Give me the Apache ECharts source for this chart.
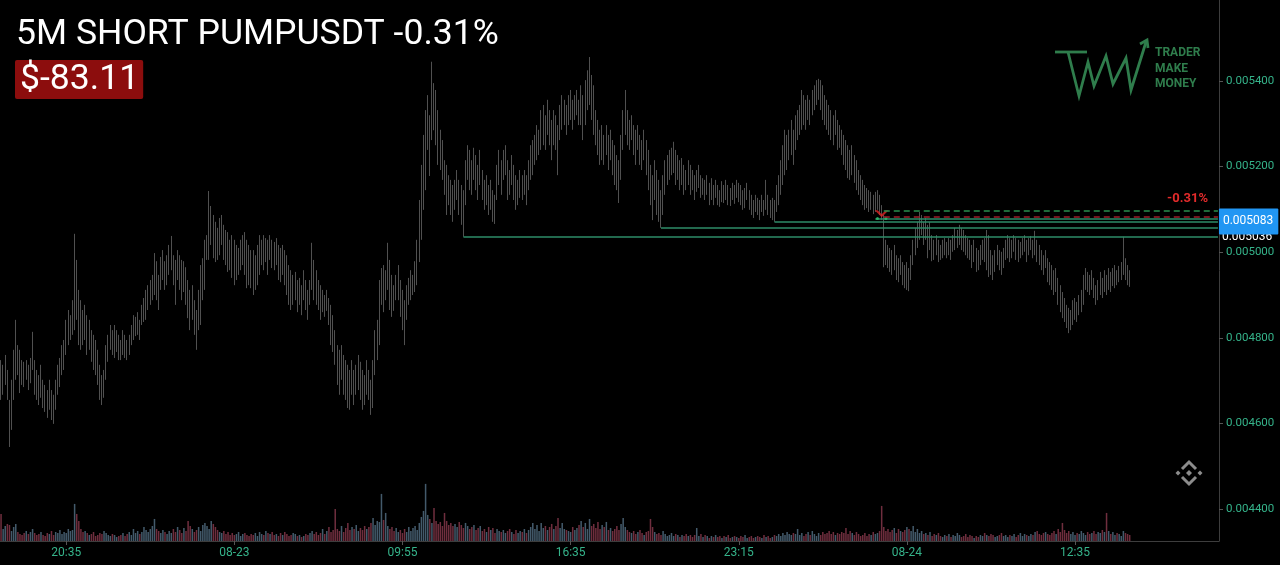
<!DOCTYPE html>
<html><head><meta charset="utf-8">
<script src="https://cdn.jsdelivr.net/npm/echarts@6/dist/echarts.min.js"></script>
<style>html,body{margin:0;padding:0;background:#000;}#c{width:1280px;height:565px;}</style>
</head><body><div id="c"></div>
<script>
// Prices are stored as price x 1e6 (e.g. 5083 = 0.005083)
const highsE6 = [
4748,4737,4760,4725,4655,4702,4772,4842,4783,4772,
4748,4744,4748,4737,4753,4814,4748,4725,4713,4737,
4702,4690,4678,4702,4678,4667,4702,4737,4753,4783,
4795,4842,4865,4853,4888,5043,4982,4912,4888,4865,
4877,4853,4842,4818,4807,4795,4772,4737,4713,4725,
4783,4807,4830,4818,4830,4818,4807,4795,4818,4807,
4795,4807,4830,4853,4849,4860,4842,4877,4893,4912,
4923,4935,4947,4998,4979,4947,4989,5005,4979,4993,
5017,5038,4993,4982,5005,4993,4982,4979,4965,4935,
4912,4923,4888,4865,4912,4970,4986,5029,5040,5143,
5108,5087,5071,5057,5080,5087,5064,5052,5047,5029,
5040,5029,5017,5010,5029,5040,5047,5029,5017,5005,
5005,4993,5017,5040,5029,5040,5033,5029,5040,5029,
5024,5033,5017,5010,5017,5005,4993,4970,4958,4947,
4954,4935,4940,4923,4958,4935,4912,4935,5022,4982,
4958,4935,4923,4912,4900,4912,4893,4877,4853,4818,
4783,4772,4783,4760,4748,4737,4725,4748,4725,4737,
4760,4744,4725,4713,4748,4725,4702,4748,4818,4842,
4935,4963,4970,4958,5022,4982,4947,4923,4947,4970,
4935,4912,4888,4923,4940,4958,4947,4979,5029,5122,
5204,5274,5332,5367,5320,5445,5395,5379,5332,5286,
5262,5215,5204,5180,5169,5157,5169,5192,5169,5157,
5145,5215,5250,5239,5215,5244,5227,5204,5239,5192,
5169,5180,5157,5169,5145,5134,5204,5239,5215,5239,
5250,5215,5192,5227,5204,5180,5169,5192,5180,5192,
5180,5215,5250,5262,5274,5297,5286,5332,5344,5320,
5356,5332,5309,5332,5320,5297,5344,5367,5356,5344,
5367,5379,5356,5367,5379,5356,5390,5367,5402,5425,
5456,5414,5390,5332,5309,5286,5297,5274,5297,5274,
5286,5262,5250,5227,5215,5274,5332,5379,5332,5309,
5320,5297,5286,5297,5274,5262,5286,5262,5239,5204,
5180,5215,5192,5169,5145,5180,5215,5227,5239,5244,
5258,5239,5227,5215,5220,5204,5192,5215,5204,5192,
5180,5192,5204,5180,5173,5169,5180,5162,5173,5157,
5169,5157,5145,5166,5157,5169,5157,5150,5162,5157,
5169,5162,5157,5145,5150,5162,5145,5134,5122,5134,
5127,5122,5134,5122,5169,5134,5122,5127,5122,5157,
5180,5215,5250,5286,5274,5286,5309,5286,5320,5332,
5344,5379,5367,5356,5367,5356,5379,5390,5402,5405,
5402,5390,5367,5356,5344,5332,5320,5332,5309,5297,
5286,5274,5262,5250,5239,5250,5227,5215,5192,5180,
5169,5157,5150,5145,5141,5134,5141,5145,5134,5110,
5087,5029,5017,5010,5005,5017,4993,4986,4993,4977,
4970,4977,4963,4993,5029,5057,5071,5094,5087,5071,
5080,5064,5071,5040,5029,5040,5029,5017,5029,5033,
5024,5033,5029,5040,5057,5052,5064,5057,5052,5040,
5033,5029,5017,5029,5010,5005,5017,5029,5033,5052,
5040,5005,4993,5005,5017,5005,5001,5010,5029,5040,
5033,5029,5040,5033,5029,5024,5033,5040,5029,5033,
5038,5029,5050,5029,5017,5005,4993,5005,4986,4977,
4970,4958,4963,4940,4923,4907,4893,4877,4870,4865,
4888,4893,4884,4900,4912,4947,4963,4954,4947,4958,
4940,4923,4935,4954,4940,4958,4947,4963,4954,4963,
4970,4958,4968,4977,5036,4986,4970,4958
];
const lowsE6 = [
4655,4667,4690,4655,4545,4585,4655,4702,4713,4671,
4690,4685,4702,4678,4694,4725,4667,4655,4643,4660,
4636,4627,4613,4632,4608,4599,4632,4667,4685,4713,
4725,4760,4783,4795,4807,4818,4842,4783,4772,4783,
4795,4760,4772,4744,4725,4713,4690,4655,4643,4660,
4702,4744,4772,4760,4753,4767,4748,4748,4760,4753,
4748,4760,4783,4795,4804,4807,4795,4830,4837,4842,
4865,4877,4888,4900,4888,4865,4912,4935,4912,4923,
4947,4958,4923,4877,4935,4912,4888,4907,4877,4846,
4818,4842,4807,4772,4818,4830,4888,4912,4982,4982,
5017,4986,4977,4982,4993,5017,4982,4970,4954,4958,
4940,4923,4935,4947,4958,4970,4947,4916,4923,4916,
4900,4912,4923,4947,4970,4958,4977,4947,4982,4963,
4958,4970,4935,4930,4947,4923,4900,4877,4865,4877,
4888,4860,4877,4853,4888,4865,4842,4877,4912,4888,
4877,4865,4842,4860,4849,4863,4830,4783,4767,4737,
4690,4667,4702,4667,4655,4636,4632,4667,4643,4667,
4678,4655,4632,4643,4667,4655,4620,4636,4713,4748,
4783,4877,4860,4888,4912,4865,4849,4863,4888,4888,
4849,4818,4783,4842,4877,4888,4900,4907,4923,4977,
5029,5099,5145,5239,5178,5262,5285,5250,5204,5192,
5169,5134,5087,5110,5087,5071,5099,5122,5087,5064,
5036,5110,5169,5145,5134,5169,5145,5122,5157,5122,
5099,5110,5087,5099,5071,5066,5122,5157,5134,5169,
5180,5122,5134,5157,5122,5099,5110,5127,5122,5134,
5110,5145,5169,5180,5204,5215,5227,5239,5250,5239,
5274,5250,5215,5250,5239,5180,5262,5286,5297,5274,
5297,5309,5286,5309,5320,5297,5297,5262,5297,5332,
5344,5309,5274,5250,5227,5204,5215,5204,5227,5192,
5215,5180,5157,5145,5115,5169,5239,5274,5250,5239,
5262,5227,5204,5239,5204,5192,5215,5180,5145,5110,
5075,5122,5087,5071,5057,5087,5134,5157,5169,5180,
5185,5157,5169,5145,5157,5134,5145,5157,5134,5145,
5122,5141,5150,5127,5134,5122,5134,5110,5122,5110,
5127,5110,5106,5117,5115,5122,5110,5108,5122,5113,
5127,5117,5110,5099,5103,5122,5099,5087,5080,5094,
5087,5075,5094,5085,5099,5087,5080,5075,5071,5094,
5110,5134,5157,5180,5192,5215,5227,5204,5239,5262,
5274,5286,5297,5286,5309,5297,5320,5332,5344,5356,
5332,5309,5297,5286,5274,5262,5250,5274,5239,5244,
5227,5204,5192,5173,5169,5180,5162,5145,5134,5122,
5110,5099,5103,5094,5099,5089,5094,5099,5087,5075,
4965,4970,4963,4954,4947,4958,4935,4930,4947,4923,
4916,4912,4909,4935,4970,4993,5010,5029,5040,5017,
5029,4986,5005,4979,4982,4993,4977,4982,4986,4993,
4986,4993,4982,5001,5005,5010,5017,5005,5001,4993,
4986,4982,4963,4977,4954,4958,4970,4982,4977,4958,
4942,4947,4935,4954,4970,4958,4947,4963,4982,4986,
4977,4986,5001,4982,4977,4986,4993,5001,4977,4993,
5005,4986,4993,4977,4970,4958,4947,4963,4930,4923,
4912,4900,4907,4877,4860,4846,4837,4823,4811,4818,
4830,4842,4837,4853,4860,4877,4912,4907,4900,4912,
4893,4877,4888,4900,4893,4907,4900,4912,4907,4921,
4916,4923,4930,4935,4947,4935,4923,4919
];
// Volume per bar (relative units)
const volumes = [
27,12,15,17,16,10,14,17,9,7, 6,8,10,7,9,12,8,6,7,9, 6,5,8,7,10,6,9,8,11,7,
9,8,12,10,11,37,27,20,12,9, 10,8,6,7,9,5,6,8,7,10, 8,6,5,7,6,4,5,6,8,5,
7,9,6,12,8,10,7,9,14,11, 9,12,15,22,12,10,8,11,9,7, 10,8,12,9,14,11,8,13,10,20,
15,12,9,11,14,10,16,18,15,12, 20,17,14,11,9,8,10,7,9,6, 8,6,7,9,5,7,8,6,5,7,
6,8,5,9,7,6,10,8,7,9, 6,7,5,8,6,9,7,5,6,8, 7,5,6,4,5,7,6,8,10,7,
9,6,8,12,7,10,14,9,11,32, 12,10,15,9,13,18,11,14,12,16, 10,13,11,15,12,14,18,23,16,20,
19,47,21,28,15,12,14,10,13,9, 11,8,12,9,14,10,13,15,11,18, 24,30,57,26,22,18,33,20,17,19,
15,28,20,16,18,15,17,14,19,16, 13,18,15,12,14,16,11,13,15,10, 12,9,14,11,13,8,12,10,9,11,
8,10,12,9,7,11,8,10,9,12, 8,11,14,18,12,16,10,18,13,15, 11,14,17,12,15,23,13,18,12,11,
10,9,14,11,13,16,20,14,18,12, 22,15,17,13,19,12,16,14,19,11, 13,10,12,15,11,17,23,14,11,9,
8,10,7,9,11,8,6,9,10,22, 14,9,7,8,6,10,7,5,6,8, 5,7,6,4,6,5,7,5,6,4,
6,13,5,7,4,6,5,3,5,4, 6,4,5,3,5,4,6,3,4,5, 4,3,5,4,6,3,4,5,3,4,
5,4,3,6,4,5,3,4,6,5, 7,5,8,6,9,7,6,8,7,12, 6,8,5,7,9,6,10,7,5,8,
6,9,7,8,10,7,9,6,8,7, 9,8,13,7,10,8,6,9,7,5, 6,8,5,7,6,9,7,8,10,35,
14,10,12,9,11,13,8,12,10,9, 11,14,12,10,15,9,12,8,10,7, 8,6,9,5,7,6,8,5,4,6,
5,7,4,6,5,8,6,4,5,7, 4,6,5,3,5,4,6,5,8,6, 5,7,6,4,5,6,8,5,6,4,
6,5,7,4,6,8,5,7,6,5, 7,6,9,10,7,6,8,9,7,6, 8,10,7,12,9,18,11,8,10,7,
9,6,8,7,10,8,6,9,7,8, 10,7,9,8,11,9,28,10,7,9, 6,8,7,5,10,8,7,6
];
const yTickValues = [0.0044, 0.0046, 0.0048, 0.0050, 0.0052, 0.0054];
const xTickLabels = ['20:35', '08-23', '09:55', '16:35', '23:15', '08-24', '12:35'];
const firstTickIndex = 31, tickEvery = 80, totalSlots = 580;
const levelPrices = [0.005036, 0.005057, 0.005071, 0.005078];
const levelStart = [220, 314, 368, 416];
const entryIndex = 419;
const entryPrice = 0.005083;
const targetPrice = 0.005096;
const markerPrice = 0.005090;
const dotPrice = 0.005079;
const priceTagAnchor = 0.005072;   // vertical anchor of the last-price tag
const pnlText = '-0.31%';

const pad = n => String(n).padStart(2, '0');
const categories = [];
const t0 = Date.UTC(2025, 7, 22, 18, 0);
for (let i = 0; i < totalSlots; i++) {
  const d = new Date(t0 + i * 300000);
  categories.push(pad(d.getUTCMonth() + 1) + '-' + pad(d.getUTCDate()) + ' ' + pad(d.getUTCHours()) + ':' + pad(d.getUTCMinutes()));
}
const E6 = v => +(v / 1e6).toFixed(7);
const candles = highsE6.map((h, i) => [E6(lowsE6[i]), E6(h), E6(lowsE6[i]), E6(h)]);
const mid = i => (highsE6[i] + lowsE6[i]) / 2;
const volData = volumes.map((v, i) => ({
  value: v,
  itemStyle: { color: (i > 0 && mid(i) >= mid(i - 1)) ? '#435a6b' : '#6f2e3e' }
}));
const lastCat = categories[totalSlots - 1];
const isTick = idx => idx >= firstTickIndex && (idx - firstTickIndex) % tickEvery === 0;

const lvlColor = '#2e8c68';
const levelLines = levelPrices.map((p, k) => {
  const item = [{ coord: [categories[levelStart[k]], p] }, { coord: [lastCat, p] }];
  if (k === 0) {
    item[0].label = { show: true, position: 'end', distance: 4, formatter: p.toFixed(6), color: '#ffffff', fontSize: 12, fontFamily: 'Roboto' };
  }
  return item;
});

const chart = echarts.init(document.getElementById('c'), null, { renderer: 'canvas' });
chart.setOption({
  backgroundColor: '#000000',
  animation: false,
  textStyle: { fontFamily: 'Roboto' },
  grid: { left: 0, right: 61, top: 0, bottom: 24 },
  xAxis: {
    type: 'category', data: categories, boundaryGap: true,
    axisLine: { show: true, lineStyle: { color: '#3d3d3d', width: 1 } },
    axisTick: { show: true, interval: isTick, alignWithLabel: true, length: 4, lineStyle: { color: '#555' } },
    axisLabel: { interval: isTick, margin: 6, color: '#35b38a', fontSize: 12,
      formatter: (v, i) => xTickLabels[(i - firstTickIndex) / tickEvery] || '' },
    splitLine: { show: false }
  },
  yAxis: [{
    type: 'value', position: 'right', min: 0.0043254, max: 0.0055892, scale: true,
    axisLine: { show: true, lineStyle: { color: '#3d3d3d', width: 1 } },
    axisTick: { show: true, customValues: yTickValues, length: 4, lineStyle: { color: '#555' } },
    axisLabel: { customValues: yTickValues, margin: 7, color: '#35b38a', fontSize: 11.5, formatter: v => v.toFixed(6) },
    splitLine: { show: false }
  }, {
    type: 'value', min: 0, max: 540, show: false, splitLine: { show: false }
  }],
  series: [{
    type: 'bar', name: 'volume', yAxisIndex: 1, data: volData, barWidth: '72%', silent: true, z: 1
  }, {
    type: 'candlestick', name: 'PUMPUSDT', data: candles, barWidth: 1, z: 2,
    itemStyle: { color: '#878787', color0: '#878787', borderColor: '#878787', borderColor0: '#878787', borderWidth: 0.6 },
    markLine: {
      silent: true, symbol: ['none', 'none'], animation: false,
      lineStyle: { color: lvlColor, width: 1.6, type: 'solid' },
      label: { show: false },
      data: levelLines
    }
  }, {
    type: 'scatter', name: 'trade', z: 5,
    data: [
      { value: [categories[entryIndex], markerPrice], symbol: 'path://M0,0 L3,0 L7,4 L11,0 L14,0 L7,7 Z', symbolSize: [14, 7], itemStyle: { color: '#e02424' } },
      { value: [categories[entryIndex - 2], dotPrice], symbol: 'circle', symbolSize: 3, itemStyle: { color: '#2ec46e' } },
      { value: [categories[entryIndex + 2], dotPrice], symbol: 'circle', symbolSize: 3, itemStyle: { color: '#2ec46e' } }
    ],
    markLine: {
      silent: true, symbol: ['none', 'none'], animation: false, z: 6,
      data: [
        [{ coord: [categories[entryIndex + 1], targetPrice], lineStyle: { color: '#2a8f4e', width: 1.5, type: [6, 4] }, label: { show: false } },
         { coord: [lastCat, targetPrice] }],
        [{ coord: [categories[entryIndex + 1], entryPrice], lineStyle: { color: '#9e1e28', width: 1.5, type: [6, 4] }, label: { show: false } },
         { coord: [lastCat, entryPrice] }],
        [{ coord: [categories[totalSlots - 3], priceTagAnchor], lineStyle: { color: 'rgba(0,0,0,0)', width: 0.1 },
           label: { show: true, position: 'end', distance: 1, formatter: entryPrice.toFixed(6), color: '#ffffff', fontSize: 12, fontFamily: 'Roboto',
             backgroundColor: '#2196f3', padding: [3, 5, 11, 4], borderRadius: 1, opacity: 1 } },
         { coord: [lastCat, priceTagAnchor] }]
      ]
    }
  }],
  graphic: [
    { type: 'text', left: 16, top: 17, style: { text: '5M SHORT PUMPUSDT -0.31%', fill: '#ffffff', font: '35.6px Roboto' } },
    { type: 'text', left: 15, top: 60, style: { text: '$-83.11', fill: '#ffffff', font: '35.6px Roboto', backgroundColor: '#8c0d0d', padding: [2, 4, 1, 5], borderRadius: 2 } },
    { type: 'text', right: 72, top: 192, style: { text: pnlText, fill: '#e32b2b', font: 'bold 13px Roboto' } },
    // logo
    { type: 'polyline', shape: { points: [[1055, 52], [1087, 52]] }, style: { stroke: '#2f7d4c', lineWidth: 2.8, fill: null } },
    { type: 'polyline', shape: { points: [[1068, 52], [1079, 96], [1088, 62], [1094, 86], [1106, 56], [1113, 84], [1126, 58], [1131, 90], [1146, 42]] }, style: { stroke: '#2f7d4c', lineWidth: 2.8, fill: null, lineJoin: 'miter' } },
    { type: 'polyline', shape: { points: [[1140, 44], [1147, 40], [1148, 48]] }, style: { stroke: '#2f7d4c', lineWidth: 2.8, fill: null } },
    { type: 'text', left: 1155, top: 47, style: { text: 'TRADER', fill: '#2f7d4c', font: 'bold 12px Roboto' } },
    { type: 'text', left: 1155, top: 63, style: { text: 'MAKE', fill: '#2f7d4c', font: 'bold 12px Roboto' } },
    { type: 'text', left: 1155, top: 78, style: { text: 'MONEY', fill: '#2f7d4c', font: 'bold 12px Roboto' } },
    // exchange icon
    { type: 'polyline', shape: { points: [[1182, 469], [1189, 462], [1196, 469]] }, style: { stroke: '#8c8c8c', lineWidth: 3, fill: null } },
    { type: 'polyline', shape: { points: [[1182, 477], [1189, 484], [1196, 477]] }, style: { stroke: '#8c8c8c', lineWidth: 3, fill: null } },
    { type: 'polygon', shape: { points: [[1189, 470], [1192, 473], [1189, 476], [1186, 473]] }, style: { fill: '#8c8c8c' } },
    { type: 'polygon', shape: { points: [[1178, 470.5], [1180.5, 473], [1178, 475.5], [1175.5, 473]] }, style: { fill: '#8c8c8c' } },
    { type: 'polygon', shape: { points: [[1200, 470.5], [1202.5, 473], [1200, 475.5], [1197.5, 473]] }, style: { fill: '#8c8c8c' } }
  ]
});
</script>
</body></html>
